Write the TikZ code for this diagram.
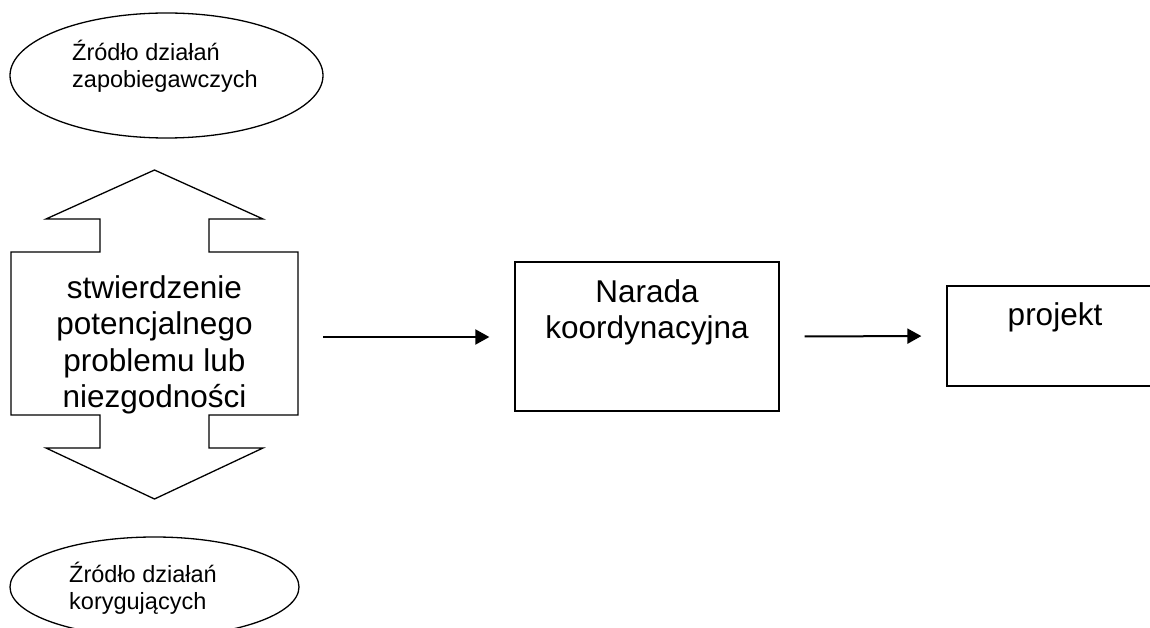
\documentclass[tikz,border=0pt]{standalone}
\usepackage{fontspec}
\setmainfont{Liberation Sans}
\usetikzlibrary{shapes.geometric,arrows.meta}
\newcommand\bigtxt{\fontsize{31.5}{36.5}\selectfont}
\newcommand\smalltxt{\fontsize{23.5}{27.3}\selectfont}
\tikzset{
  shapeline/.style={draw=black, line width=1.3pt},
  boxnode/.style={shapeline, rectangle, inner sep=0pt},
  ovalnode/.style={shapeline, ellipse, inner sep=0pt},
  txt/.style={inner sep=0pt, text=black},
  flowarrow/.style={line width=2pt, -{Triangle[length=14pt,width=15pt]}, shorten <=25pt, shorten >=25pt},
}
\begin{document}
\begin{tikzpicture}[x=1pt,y=-1pt]
\useasboundingbox (0,0) rectangle (1150,628);
\clip (0,0) rectangle (1150,628);
\fill[white] (0,0) rectangle (1150,628);

% top ellipse
\node[ovalnode, minimum width=313pt, minimum height=125pt] (topoval) at (166.5,75.5) {};
\node[txt, anchor=base west] (toptext) at (72,60.7)
  {\smalltxt\begin{tabular}[t]{@{}l@{}}Źródło działań\\zapobiegawczych\end{tabular}};

% bottom ellipse
\node[ovalnode, minimum width=289pt, minimum height=100pt] (botoval) at (154.5,587) {};
\node[txt, anchor=base west] (bottext) at (69,582)
  {\fontsize{23.5}{27}\selectfont\begin{tabular}[t]{@{}l@{}}Źródło działań\\korygujących\end{tabular}};

% double arrow (up-down)
\draw[shapeline, line join=miter] (154.5,170) -- (263,219) -- (209,219) -- (209,252) -- (298,252)
  -- (298,415) -- (209,415) -- (209,448) -- (263,448) -- (154.5,499) -- (46,448)
  -- (100,448) -- (100,415) -- (11,415) -- (11,252) -- (100,252) -- (100,219) -- (46,219) -- cycle;
\coordinate (bodyE) at (298,337);
\node[txt, anchor=base] (dbltext) at (154.5,298)
  {\bigtxt\begin{tabular}[t]{@{}c@{}}stwierdzenie\\potencjalnego\\problemu lub\\niezgodności\end{tabular}};

% Narada box
\node[boxnode, minimum width=264pt, minimum height=149pt] (narada) at (647,336.5) {};
\node[txt, anchor=base] (naradatext) at (647,302)
  {\bigtxt\begin{tabular}[t]{@{}c@{}}Narada\\koordynacyjna\end{tabular}};

% projekt box
\node[boxnode, minimum width=216pt, minimum height=100pt] (projekt) at (1055,336) {};
\node[txt, anchor=base] (projekttext) at (1055,325) {\bigtxt projekt};

% connectors
\draw[flowarrow] (bodyE) -- (bodyE -| narada.west);
\draw[flowarrow] (narada.east) -- (projekt.west);
\end{tikzpicture}
\end{document}
